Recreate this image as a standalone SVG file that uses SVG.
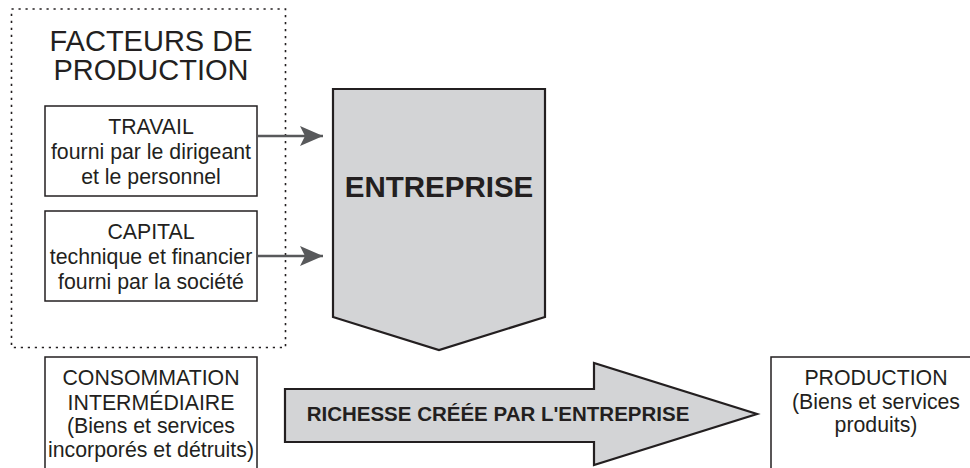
<svg xmlns="http://www.w3.org/2000/svg" width="970" height="468" viewBox="0 0 970 468">
<defs>
<style>
.box{fill:#fff;stroke:#231f20;stroke-width:1.5}
.shape{fill:#d3d4d6;stroke:#231f20;stroke-width:2.2;stroke-linejoin:miter}
.t{font-family:"Liberation Sans",Arial,sans-serif;fill:#231f20;text-anchor:middle}
.n{font-size:21.3px}
.b{font-weight:bold}
.conn{stroke:#58595b;stroke-width:2.5;fill:none}
</style>
<marker id="ah" markerWidth="24" markerHeight="20" viewBox="0 0 24 20" refX="23" refY="10" markerUnits="userSpaceOnUse" orient="auto">
<path d="M0,0 L23,10 L0,20 L5,10 Z" fill="#58595b"/>
</marker>
</defs>
<rect width="970" height="468" fill="#fff"/>
<g id="facteurs">
<rect x="11.5" y="9" width="274" height="338.5" fill="none" stroke="#231f20" stroke-width="1.6" stroke-dasharray="2.2 4.8"/>
<text class="t" x="151" y="51" font-size="29">FACTEURS DE</text>
<text class="t" x="151" y="80" font-size="29">PRODUCTION</text>
</g>
<g id="travail">
<rect class="box" x="45" y="106" width="212" height="90"/>
<text class="t n" x="151" y="134">TRAVAIL</text>
<text class="t n" x="151" y="159">fourni par le dirigeant</text>
<text class="t n" x="151" y="184">et le personnel</text>
</g>
<g id="capital">
<rect class="box" x="45" y="211" width="212" height="90"/>
<text class="t n" x="151" y="239">CAPITAL</text>
<text class="t n" x="151" y="264">technique et financier</text>
<text class="t n" x="151" y="289">fourni par la société</text>
</g>
<g id="entreprise">
<polygon class="shape" points="333,89 545,89 545,317 439,350 333,317"/>
<text class="t b" x="439" y="197" font-size="29.5">ENTREPRISE</text>
</g>
<g id="consommation">
<rect class="box" x="45" y="357" width="212" height="120"/>
<text class="t n" x="151" y="385">CONSOMMATION</text>
<text class="t n" x="151" y="410">INTERMÉDIAIRE</text>
<text class="t n" x="151" y="433">(Biens et services</text>
<text class="t n" x="151" y="457">incorporés et détruits)</text>
</g>
<g id="richesse">
<polygon class="shape" points="285,389 594,389 594,363 757,414 594,465 594,442 285,442"/>
<text class="t b" x="498" y="421" font-size="20.5">RICHESSE CRÉÉE PAR L'ENTREPRISE</text>
</g>
<g id="production">
<rect class="box" x="771" y="357" width="210" height="120"/>
<text class="t n" x="876" y="385">PRODUCTION</text>
<text class="t n" x="876" y="409">(Biens et services</text>
<text class="t n" x="876" y="432">produits)</text>
</g>
<g id="connectors">
<line class="conn" x1="257" y1="136" x2="323" y2="136" marker-end="url(#ah)"/>
<line class="conn" x1="257" y1="256" x2="323" y2="256" marker-end="url(#ah)"/>
</g>
</svg>
